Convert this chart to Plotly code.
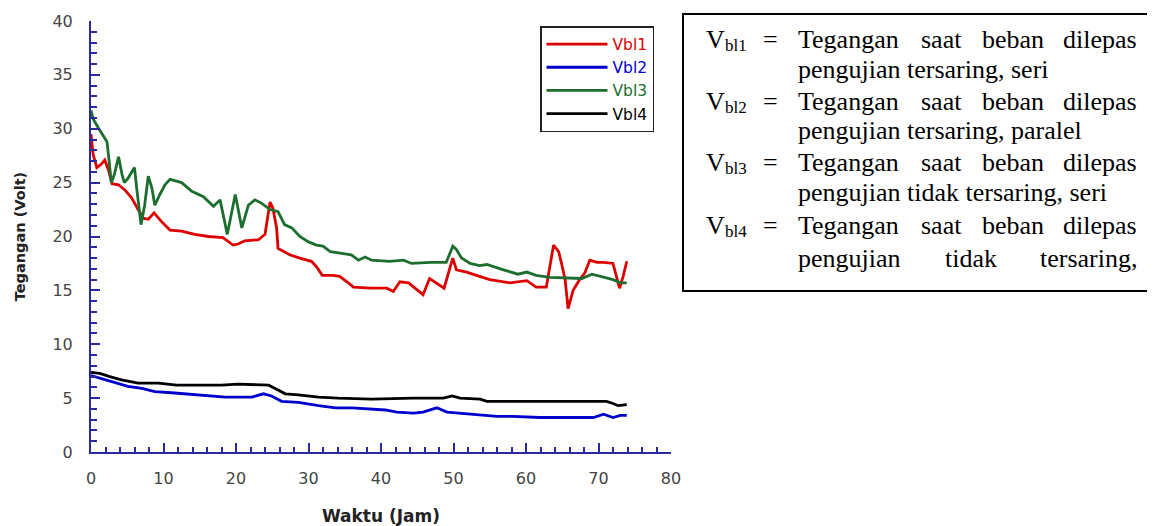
import plotly.graph_objects as go

# ---------------- data ----------------
vbl1_x = [0, 0.2, 0.3, 0.8, 1.4, 1.9, 2.4, 2.9, 3.8, 4.7, 5.6, 6.5, 7.2, 7.9, 8.7, 9.7, 10.9, 12.5, 14.3, 16.2,
          18.2, 19.6, 20.3, 21.2, 23.1, 24.0, 24.7, 25.1, 25.6, 25.8, 26.7, 27.4, 28.8, 30.4, 31.1, 31.9, 33.4,
          34.3, 35.3, 36.2, 38.5, 40.8, 41.7, 42.6, 43.8, 44.7, 45.8, 46.7, 47.4, 48.7, 49.3, 49.9, 50.4, 51.8,
          53.6, 55.0, 57.8, 60.1, 61.4, 62.8, 63.8, 64.5, 64.9, 65.4, 65.8, 66.5, 67.4, 68.1, 68.8, 69.8, 70.7,
          72.0, 72.9, 73.4, 73.9]
vbl1_y = [29.5, 28.5, 27.6, 26.4, 26.7, 27.1, 26.2, 24.9, 24.8, 24.3, 23.6, 22.5, 21.7, 21.6, 22.2, 21.4, 20.6,
          20.5, 20.2, 20.0, 19.9, 19.2, 19.3, 19.6, 19.7, 20.2, 23.2, 22.6, 20.8, 18.9, 18.6, 18.3, 18.0, 17.7,
          17.2, 16.4, 16.4, 16.3, 15.8, 15.3, 15.2, 15.2, 14.9, 15.8, 15.7, 15.2, 14.6, 16.1, 15.8, 15.2, 16.6,
          18.0, 16.9, 16.7, 16.3, 16.0, 15.7, 15.9, 15.3, 15.3, 19.2, 18.6, 17.5, 16.0, 13.3, 15.0, 16.0, 16.6,
          17.8, 17.6, 17.6, 17.5, 15.2, 16.3, 17.7]

vbl2_x = [0, 1.5, 3.3, 5.1, 7.0, 8.8, 11.1, 13.0, 15.3, 18.5, 20.3, 22.2, 23.8, 24.9, 26.3, 28.6, 31.4, 33.7,
          36.0, 38.7, 40.6, 42.2, 44.5, 45.8, 47.7, 49.1, 50.9, 53.2, 56.0, 58.2, 61.9, 65.1, 69.3, 70.7, 72.0,
          73.0, 73.9]
vbl2_y = [7.1, 6.8, 6.5, 6.1, 5.9, 5.6, 5.5, 5.4, 5.3, 5.1, 5.1, 5.1, 5.4, 5.2, 4.7, 4.6, 4.3, 4.1, 4.1, 4.0,
          3.9, 3.7, 3.6, 3.7, 4.1, 3.7, 3.6, 3.5, 3.3, 3.3, 3.2, 3.2, 3.2, 3.5, 3.2, 3.4, 3.4]

vbl3_x = [0, 0.3, 1.0, 1.7, 2.2, 2.5, 2.8, 3.2, 3.8, 4.3, 4.6, 5.1, 6.0, 6.3, 6.9, 7.4, 7.9, 8.4, 8.8, 9.5,
          10.2, 10.9, 12.5, 13.9, 15.5, 16.9, 17.8, 18.8, 19.9, 20.8, 21.7, 22.6, 23.5, 24.7, 25.8, 26.7, 27.7,
          28.8, 30.0, 31.1, 32.0, 33.0, 34.1, 35.9, 36.9, 37.8, 38.7, 41.2, 43.1, 44.2, 46.8, 49.0, 49.9, 50.4,
          51.1, 52.3, 53.6, 54.6, 56.9, 58.9, 60.1, 61.4, 63.3, 66.1, 67.7, 69.1, 70.7, 72.0, 73.0, 73.9]
vbl3_y = [31.7, 30.9, 30.1, 29.3, 28.8, 27.0, 25.0, 25.7, 27.4, 25.7, 25.0, 25.4, 26.4, 24.5, 21.1, 22.9, 25.6,
          24.5, 22.9, 23.9, 24.8, 25.3, 25.0, 24.2, 23.7, 22.8, 23.4, 20.2, 23.9, 20.8, 22.9, 23.4, 23.1, 22.5,
          22.3, 21.1, 20.8, 20.0, 19.5, 19.2, 19.1, 18.6, 18.5, 18.3, 17.8, 18.1, 17.8, 17.7, 17.8, 17.5, 17.6,
          17.6, 19.1, 18.8, 18.0, 17.5, 17.3, 17.4, 16.9, 16.5, 16.7, 16.4, 16.2, 16.1, 16.1, 16.5, 16.2, 16.0,
          15.7, 15.7]

vbl4_x = [0, 1.2, 2.6, 4.2, 6.5, 9.3, 11.8, 15.3, 18.0, 20.3, 24.5, 25.4, 26.8, 28.6, 31.4, 34.1, 38.7, 44.5,
          48.6, 49.8, 50.9, 53.7, 54.6, 56.4, 58.2, 61.0, 65.1, 71.1, 72.0, 72.7, 73.9]
vbl4_y = [7.4, 7.3, 7.0, 6.7, 6.4, 6.4, 6.2, 6.2, 6.2, 6.3, 6.2, 5.9, 5.4, 5.3, 5.1, 5.0, 4.9, 5.0, 5.0, 5.2,
          5.0, 4.9, 4.7, 4.7, 4.7, 4.7, 4.7, 4.7, 4.5, 4.3, 4.4]

series_names = ["Vbl1", "Vbl2", "Vbl3", "Vbl4"]
series_colors = ["#dd0000", "#0000cc", "#1b6e2e", "#000000"]
series_x = [vbl1_x, vbl2_x, vbl3_x, vbl4_x]
series_y = [vbl1_y, vbl2_y, vbl3_y, vbl4_y]

x_title = "Waktu (Jam)"
y_title = "Tegangan (Volt)"

# description box text
desc_labels = ["bl1", "bl2", "bl3", "bl4"]
desc_first = ["Tegangan", "saat", "beban", "dilepas"]
desc_second = ["pengujian tersaring, seri", "pengujian tersaring, paralel",
               "pengujian tidak tersaring, seri", None]
desc_last_words = ["pengujian", "tidak", "tersaring,"]

# ---------------- layout geometry ----------------
# the page body adds an 8px offset; positions below are screen pixels
OFF = 8
SW, SH = 1155, 526
W, H = SW - OFF, SH - OFF
PL, PR, PT, PB = 91, 671, 21, 452  # plot area in screen pixels
L, T = PL - OFF, PT - OFF
R, B = W - (PR - OFF), H - (PB - OFF)
PW, PH = PR - PL, PB - PT


def px(xs):
    return (xs - PL) / PW


def py(ys):
    return (PB - ys) / PH


AXC = "#2a2a9c"

fig = go.Figure()
for name, col, xs, ys in zip(series_names, series_colors, series_x, series_y):
    fig.add_trace(go.Scatter(
        x=xs, y=ys, mode="lines",
        name=f'<span style="color:{col}">{name}</span>',
        line=dict(color=col, width=2.8),
    ))

tickfont = dict(family="DejaVu Sans", size=16, color="#444444")
fig.update_xaxes(
    range=[0, 80], tick0=0, dtick=10, showgrid=False, zeroline=False,
    showline=True, linecolor=AXC, linewidth=2,
    ticks="inside", ticklen=9, tickwidth=1.5, tickcolor=AXC,
    minor=dict(dtick=2, ticks="inside", ticklen=5, tickwidth=1.5, tickcolor=AXC),
    tickfont=tickfont, ticklabelstandoff=11,
    title=dict(text=f"<b>{x_title}</b>", font=dict(family="DejaVu Sans", size=17, color="#222222"),
               standoff=24),
)
fig.update_yaxes(
    range=[0, 40], tick0=0, dtick=5, showgrid=False, zeroline=False,
    showline=True, linecolor=AXC, linewidth=2,
    ticks="inside", ticklen=9, tickwidth=1.5, tickcolor=AXC,
    minor=dict(dtick=1, ticks="inside", ticklen=6, tickwidth=1.5, tickcolor=AXC),
    tickfont=tickfont, ticklabelstandoff=13,
    title=dict(text=f"<b>{y_title}</b>", font=dict(family="DejaVu Sans", size=14.5, color="#222222"),
               standoff=23),
)

annotations = []
serif = "Liberation Serif"
fs = 26
base_lines = [50, 80, 111.7, 140, 172.7, 202.7, 235, 268.3]
first_xs = [798, 921, 982, 1063]
last_xs = [798, 945, 1040]
off = 10  # baseline -> middle offset


def txt(x, y, s, size):
    return dict(x=px(x), y=py(y), xref="paper", yref="paper", text=s,
                showarrow=False, xanchor="left", yanchor="middle",
                font=dict(family=serif, size=size, color="black"))


for i in range(4):
    b1 = base_lines[2 * i]
    b2 = base_lines[2 * i + 1]
    annotations.append(txt(704, b1 - off, "V", fs))
    annotations.append(txt(723, b1 - 4, desc_labels[i], 17))
    annotations.append(txt(761, b1 - off, "=", fs))
    for w, xw in zip(desc_first, first_xs):
        annotations.append(txt(xw - 2, b1 - off, w, fs))
    if desc_second[i] is not None:
        annotations.append(txt(796, b2 - off, desc_second[i], fs))
    else:
        for w, xw in zip(desc_last_words, last_xs):
            annotations.append(txt(xw - 2, b2 - off, w, fs))

fig.add_shape(type="rect", xref="paper", yref="paper",
              x0=px(683), x1=px(1153), y0=py(291), y1=py(14),
              line=dict(color="black", width=2), fillcolor="rgba(0,0,0,0)")

fig.update_layout(
    width=W, height=H,
    margin=dict(l=L, r=R, t=T, b=B, autoexpand=False),
    paper_bgcolor="white", plot_bgcolor="white",
    showlegend=True,
    legend=dict(x=px(540), y=py(26), xanchor="left", yanchor="top",
                bordercolor="#222222", borderwidth=1.5, bgcolor="white",
                font=dict(family="DejaVu Sans", size=15.5, color="#444444"),
                itemwidth=61, tracegroupgap=0),
    annotations=annotations,
)

fig.write_html("out.html")
